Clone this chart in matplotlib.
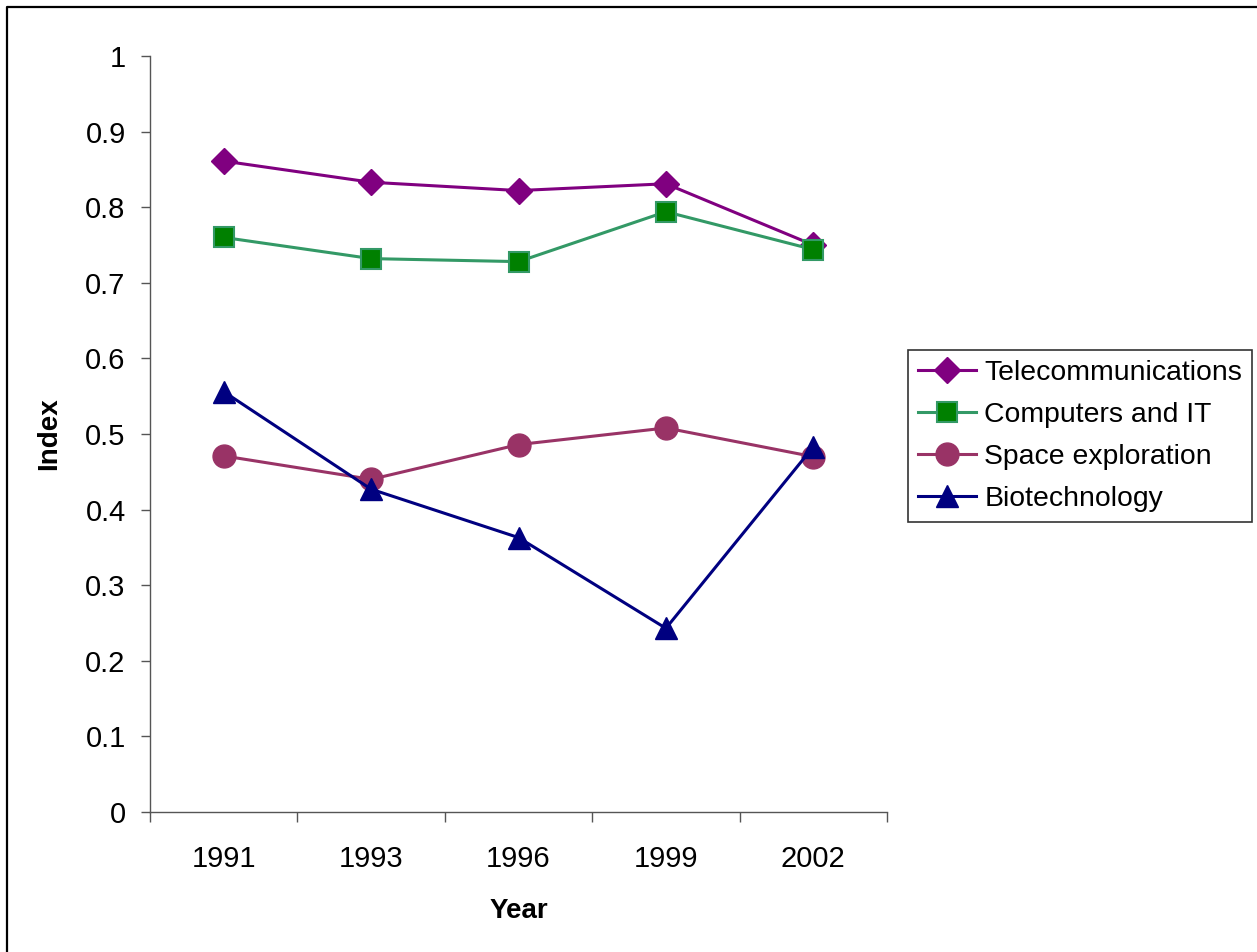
import numpy as np
from matplotlib import pyplot as plt
from matplotlib.lines import Line2D

plt.rcParams['font.family'] = ['Liberation Sans', 'DejaVu Sans']

years = ['1991', '1993', '1996', '1999', '2002']
telecom = [0.861, 0.833, 0.822, 0.831, 0.750]
computers = [0.760, 0.732, 0.728, 0.794, 0.744]
space = [0.471, 0.440, 0.486, 0.508, 0.470]
biotech = [0.556, 0.427, 0.363, 0.243, 0.483]

y_ticks = [0, 0.1, 0.2, 0.3, 0.4, 0.5, 0.6, 0.7, 0.8, 0.9, 1]
y_tick_labels = ['0', '0.1', '0.2', '0.3', '0.4', '0.5', '0.6', '0.7', '0.8', '0.9', '1']

x = np.arange(len(years))

fig = plt.figure(figsize=(12.57, 9.52), dpi=100)
ax = fig.add_axes([150/1257, 1 - 812/952, 737/1257, 756/952])

ax.plot(x, telecom, color='#800080', linewidth=2.2, marker='D', markersize=13.5,
        markerfacecolor='#800080', markeredgecolor='#800080', label='Telecommunications')
ax.plot(x, computers, color='#339966', linewidth=2.2, marker='s', markersize=15,
        markerfacecolor='#008000', markeredgecolor='#339966', markeredgewidth=1.5,
        label='Computers and IT')
ax.plot(x, space, color='#993366', linewidth=2.2, marker='o', markersize=16.5,
        markerfacecolor='#993366', markeredgecolor='#993366', label='Space exploration')
ax.plot(x, biotech, color='#000080', linewidth=2.2, marker='^', markersize=16.5,
        markerfacecolor='#000080', markeredgecolor='#000080', label='Biotechnology')

ax.set_xlim(-0.5, len(years) - 0.5)
ax.set_ylim(0, 1)

# category boundaries get the tick marks, centres get the labels
ax.set_xticks(np.arange(-0.5, len(years), 1.0))
ax.set_xticklabels([])
ax.set_xticks(x, minor=True)
ax.set_xticklabels(years, minor=True)
ax.tick_params(axis='x', which='major', direction='out', length=7, width=1, color='#555555')
ax.tick_params(axis='x', which='minor', length=0, pad=24, labelsize=21)

ax.set_yticks(y_ticks)
ax.set_yticklabels(y_tick_labels)
ax.tick_params(axis='y', direction='out', length=6.5, width=1, color='#555555', pad=11, labelsize=21)

for side in ['top', 'right']:
    ax.spines[side].set_visible(False)
for side in ['left', 'bottom']:
    ax.spines[side].set_color('#555555')
    ax.spines[side].set_linewidth(1)

ax.set_xlabel('Year', fontsize=20, fontweight='bold')
ax.set_ylabel('Index', fontsize=20, fontweight='bold')
ax.xaxis.set_label_coords(0.5, -0.114)
ax.yaxis.set_label_coords(-0.119, 0.5)

leg = fig.legend(loc='upper left', bbox_to_anchor=(908/1257, 1 - 350/952), fontsize=20.4,
                 frameon=True, fancybox=False, edgecolor='black', borderpad=0.35,
                 labelspacing=0.57, handlelength=2.05, handletextpad=0.3, borderaxespad=0)
leg.get_frame().set_linewidth(1.2)

# chart area border (left and top edges visible)
fig.add_artist(Line2D([7/1257, 7/1257, 1], [0, 1 - 7/952, 1 - 7/952],
                      transform=fig.transFigure, color='black', linewidth=1.6))

plt.savefig('out.png', dpi=100)
